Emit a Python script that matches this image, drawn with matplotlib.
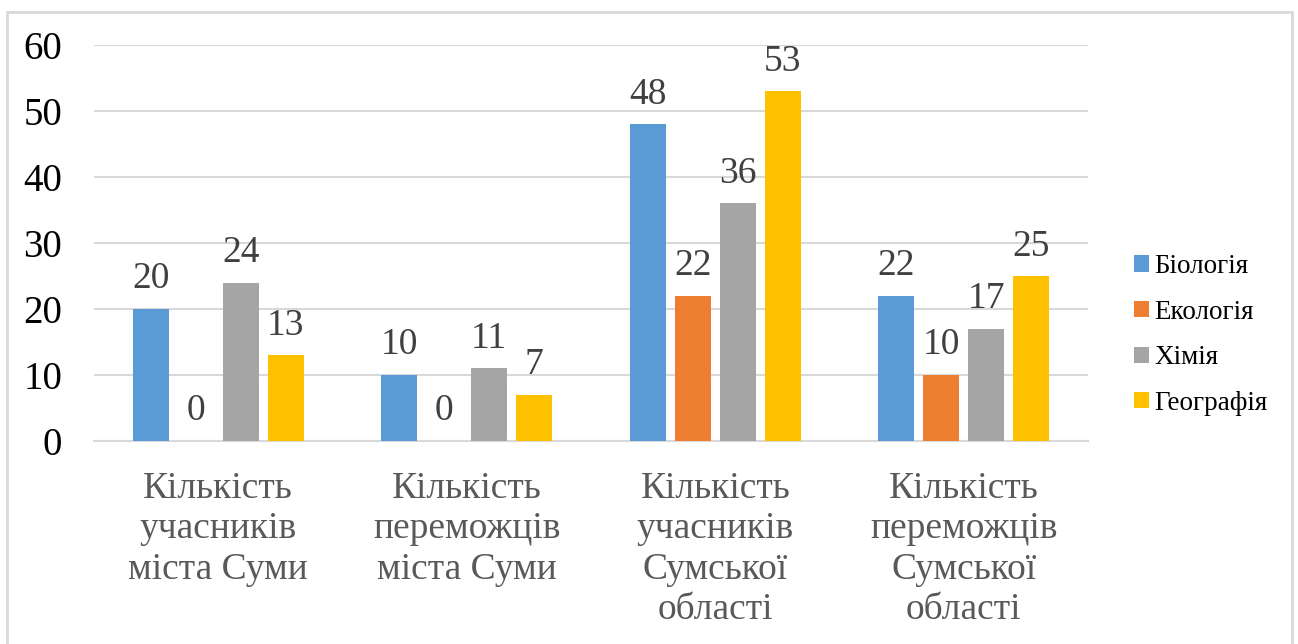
import matplotlib
matplotlib.use("Agg")
import matplotlib.pyplot as plt
from matplotlib.patches import Rectangle, Patch
import numpy as np

plt.rcParams['font.family'] = ['Liberation Serif', 'DejaVu Serif']

categories = ["Кількість\nучасників\nміста Суми",
              "Кількість\nпереможців\nміста Суми",
              "Кількість\nучасників\nСумської\nобласті",
              "Кількість\nпереможців\nСумської\nобласті"]
series_names = ["Біологія", "Екологія", "Хімія", "Географія"]
biology = [20, 10, 48, 22]
ecology = [0, 0, 22, 10]
chemistry = [24, 11, 36, 17]
geography = [13, 7, 53, 25]
values = [biology, ecology, chemistry, geography]
colors = ["#5B9BD5", "#ED7D31", "#A5A5A5", "#FFC000"]
yticks = [0, 10, 20, 30, 40, 50, 60]

W, H = 1298, 644
fig = plt.figure(figsize=(W / 100, H / 100), dpi=100)
fig.patch.set_facecolor("white")

# outer border
fig.add_artist(Rectangle((7 / W, -0.05), (1292 - 7) / W, (H - 12) / H + 0.05,
                         transform=fig.transFigure, fill=False,
                         edgecolor="#D9D9D9", linewidth=2))

ax = fig.add_axes([94 / W, (H - 441) / H, 994 / W, 396 / H])
ax.set_xlim(-0.5, 3.5)
ax.set_ylim(0, 60)

x = np.arange(len(categories))
step = 0.181
width = 0.145
for i, (vals, c) in enumerate(zip(values, colors)):
    pos = x + (i - 1.5) * step
    ax.bar(pos, vals, width=width, color=c, zorder=3)
    for px, v in zip(pos, vals):
        ax.annotate(str(v), (px, v), xytext=(0, 9), textcoords="offset points",
                    ha="center", va="bottom", fontsize=27, color="#404040")

ax.set_yticks(yticks)
ax.set_yticklabels([str(t) for t in yticks], fontsize=28, color="black")
ax.yaxis.grid(True, color="#D9D9D9", linewidth=1.5, zorder=0)
ax.set_axisbelow(True)
ax.tick_params(axis="y", length=0, pad=23)
ax.tick_params(axis="x", length=0, pad=22)
ax.set_xticks(x)
ax.set_xticklabels(categories, fontsize=27, color="#595959", linespacing=1.22, va="top")
for s in ["top", "right", "left"]:
    ax.spines[s].set_visible(False)
ax.spines["bottom"].set_color("#D9D9D9")
ax.spines["bottom"].set_linewidth(1.5)

handles = [Patch(facecolor=c, edgecolor="none") for c in colors]
fig.legend(handles, series_names, loc="center left",
           bbox_to_anchor=(1110 / W, (H - 335) / H), frameon=False,
           fontsize=19.5, handlelength=0.55, handleheight=0.55, handletextpad=0.2,
           labelspacing=0.76)

fig.savefig("out.png", dpi=100)
